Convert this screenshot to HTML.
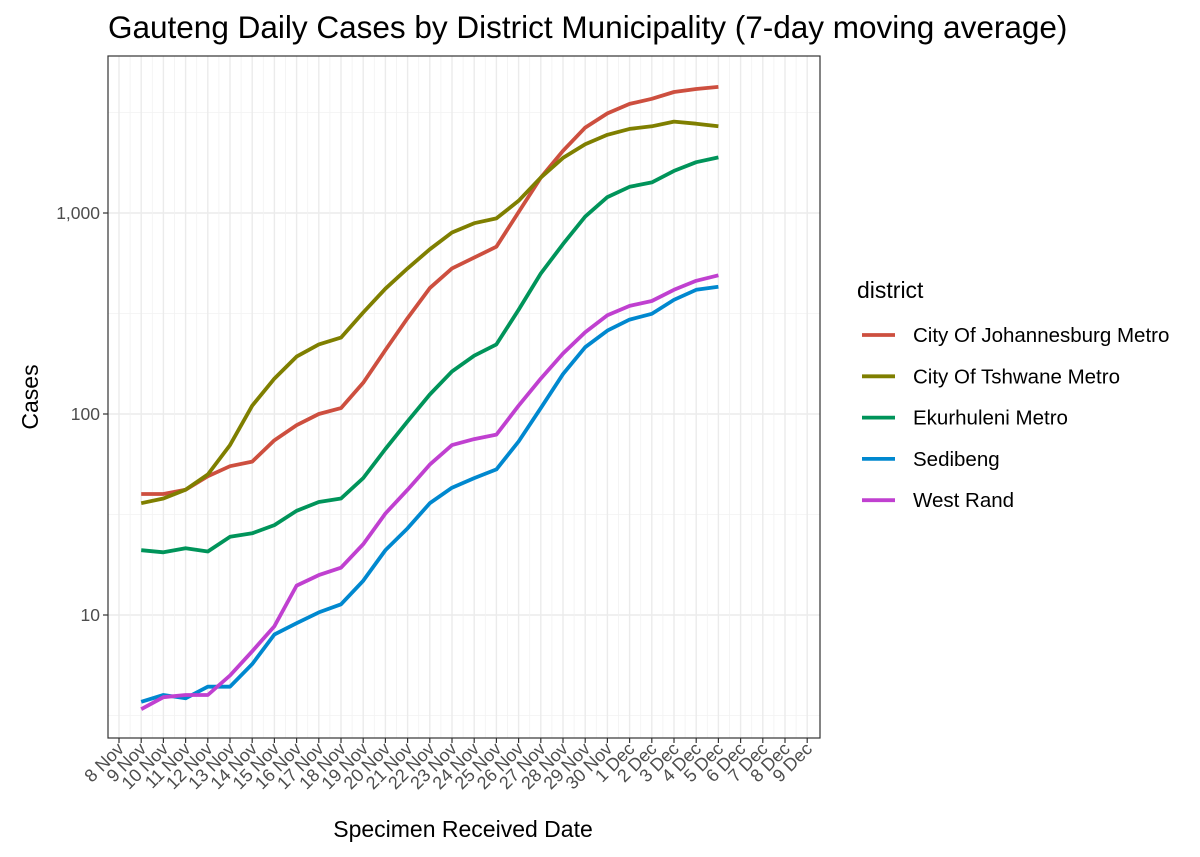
<!DOCTYPE html>
<html><head><meta charset="utf-8"><style>
body{margin:0;background:#fff;}
svg{display:block;font-family:"Liberation Sans",sans-serif;}
</style></head><body>
<svg id="chart" width="1200" height="857" viewBox="0 0 1200 857">
<rect width="1200" height="857" fill="#fff"/>
<text x="108" y="38" font-size="31.5" fill="#000">Gauteng Daily Cases by District Municipality (7-day moving average)</text>
<g id="grid"></g>
<g id="lines"></g>
<rect x="108" y="56" width="712" height="682" fill="none" stroke="#333" stroke-width="1.2"/>
<g id="axes"></g>
<text x="463" y="837" font-size="23" text-anchor="middle" fill="#000">Specimen Received Date</text>
<text transform="translate(38,397) rotate(-90)" font-size="23" text-anchor="middle" fill="#000">Cases</text>
<g id="legend">
<text x="857" y="298" font-size="23" fill="#000">district</text>
</g>
</svg>
<script>
const dates = ["8 Nov","9 Nov","10 Nov","11 Nov","12 Nov","13 Nov","14 Nov","15 Nov","16 Nov","17 Nov","18 Nov","19 Nov","20 Nov","21 Nov","22 Nov","23 Nov","24 Nov","25 Nov","26 Nov","27 Nov","28 Nov","29 Nov","30 Nov","1 Dec","2 Dec","3 Dec","4 Dec","5 Dec","6 Dec","7 Dec","8 Dec","9 Dec"];
const seriesNames = ["City Of Johannesburg Metro","City Of Tshwane Metro","Ekurhuleni Metro","Sedibeng","West Rand"];
const joburg = [40,40,42,49,55,58,74,88,100,107,143,208,300,423,530,600,680,1010,1500,2040,2660,3130,3490,3700,4000,4140,4240];
const tshwane = [36,38,42,50,70,110,150,193,222,240,320,420,530,660,800,890,940,1150,1500,1880,2200,2450,2620,2700,2850,2780,2700];
const ekurhuleni = [21,20.5,21.5,20.7,24.5,25.5,28,33,36.5,38,48,67,92,125,163,195,222,330,500,700,960,1200,1350,1420,1620,1790,1890];
const sedibeng = [3.7,4.0,3.85,4.4,4.4,5.7,8.0,9.1,10.3,11.3,14.8,21,27,36,43,48,53,73,107,158,215,260,295,315,370,415,430];
const westRand = [3.4,3.9,4.0,4.0,5.0,6.6,8.8,14,15.8,17.2,22.5,32,42,56,70,75,79,110,150,200,255,310,345,365,415,460,490];
const yTicks = [10,100,1000];
const yTickLabels = ["10","100","1,000"];
const colors = ["#CD4F3F","#7F7F00","#00945A","#0088CF","#C040D0"];
const startIndex = 1;

const NS="http://www.w3.org/2000/svg";
const X0=119, DX=22.2, PL=108, PR=820, PT=56, PB=738;
function xs(i){return X0+i*DX;}
function ys(v){return 615-201*Math.log10(v/10);}
function mk(tag,attrs,parent){const e=document.createElementNS(NS,tag);for(const k in attrs)e.setAttribute(k,attrs[k]);parent.appendChild(e);return e;}
const grid=document.getElementById('grid'), axes=document.getElementById('axes'), lines=document.getElementById('lines'), legend=document.getElementById('legend');
for(let d=0;d<=3;d++){
  const ymaj=ys(Math.pow(10,d)); if(ymaj>PT&&ymaj<PB){const l=mk('line',{x1:PL,x2:PR,y1:ymaj,y2:ymaj,stroke:'#ebebeb','stroke-width':1.4},grid);}
  const ymin=ys(Math.pow(10,d+0.5)); if(ymin>PT&&ymin<PB){const l=mk('line',{x1:PL,x2:PR,y1:ymin,y2:ymin,stroke:'#f2f2f2','stroke-width':0.8},grid);}
}
dates.forEach((d,i)=>{
  const x=xs(i);
  const g=mk('line',{x1:x,x2:x,y1:PT,y2:PB,stroke:'#ebebeb','stroke-width':1.4},grid);
  
  if(i<dates.length-1){const m=mk('line',{x1:x+DX/2,x2:x+DX/2,y1:PT,y2:PB,stroke:'#f2f2f2','stroke-width':0.8},grid);}
  const t=mk('line',{x1:x,x2:x,y1:PB,y2:PB+5,stroke:'#333','stroke-width':1.2},axes);
  
  const lb=mk('text',{transform:`translate(${x+6},${PB+12}) rotate(-45)`,'font-size':18,'text-anchor':'end',fill:'#4d4d4d'},axes);
  lb.textContent=d;
  
});
yTicks.forEach((v,i)=>{
  const y=ys(v);
  const t=mk('line',{x1:PL-5,x2:PL,y1:y,y2:y,stroke:'#333','stroke-width':1.2},axes);
  
  const lb=mk('text',{x:PL-8,y:y+6,'font-size':17.5,'text-anchor':'end',fill:'#4d4d4d'},axes);
  lb.textContent=yTickLabels[i];
  
});
[joburg,tshwane,ekurhuleni,sedibeng,westRand].forEach((s,k)=>{
  const pts=s.map((v,i)=>xs(i+startIndex).toFixed(1)+','+ys(v).toFixed(1)).join(' ');
  const p=mk('polyline',{points:pts,fill:'none',stroke:colors[k],'stroke-width':3.8,'stroke-linejoin':'round'},lines);
  
  
  const y=335+k*41.3;
  const kl=mk('line',{x1:862,x2:895,y1:y,y2:y,stroke:colors[k],'stroke-width':3.8},legend);
  
  const tx=mk('text',{x:913,y:y+7,'font-size':20.5,fill:'#000'},legend);
  tx.textContent=seriesNames[k];
  
});
</script>
</body></html>
